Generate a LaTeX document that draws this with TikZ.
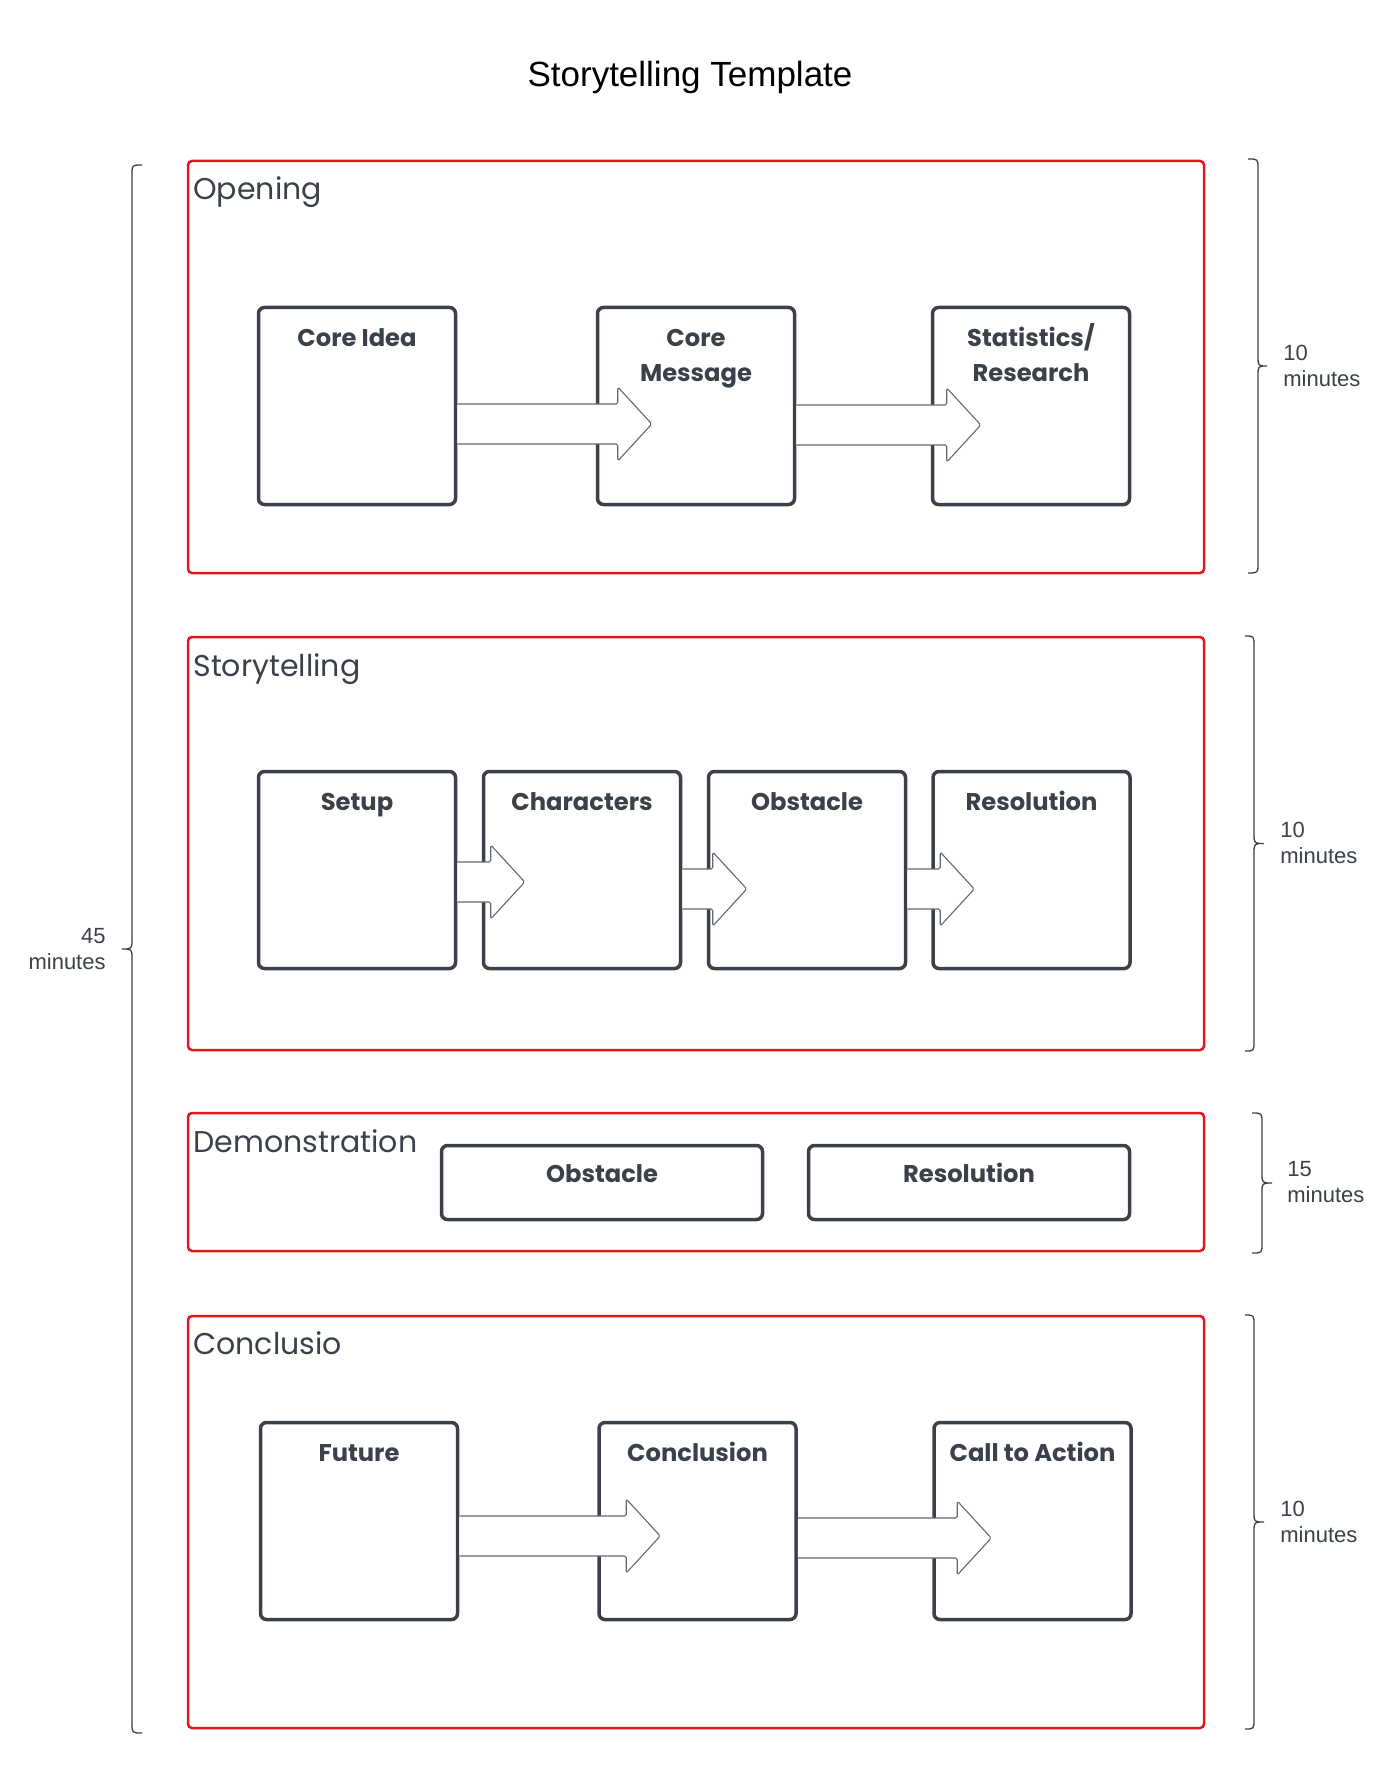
\documentclass[tikz,border=0pt]{standalone}
\usepackage{fontspec}
\setmainfont{Liberation Sans}
\newfontfamily\boxfont{Poppins}
\usetikzlibrary{calc}

\definecolor{ink}{HTML}{3A414A}
\definecolor{frame}{HTML}{E8141B}
\definecolor{arrowline}{HTML}{63686F}

\tikzset{
  section/.style={draw=frame, line width=1.25pt, rounded corners=2pt},
  stepbox/.style={draw=ink, line width=1.75pt, rounded corners=3pt, fill=white,
    minimum width=98.5pt, minimum height=98.5pt, inner sep=0pt},
  widebox/.style={draw=ink, line width=1.75pt, rounded corners=3pt, fill=white,
    minimum width=160.5pt, minimum height=37pt, inner sep=0pt},
  boxlabel/.style={font=\boxfont\bfseries\fontsize{12.1}{17.5}\selectfont,
    text=ink, align=center, inner sep=0pt, anchor=base},
  sectiontitle/.style={font=\boxfont\fontsize{15}{18}\selectfont, text=ink,
    anchor=base west, inner sep=0pt},
  timelabel/.style={font=\fontsize{11}{13}\selectfont, text=ink, inner sep=0pt},
  fat/.style={draw=arrowline, line width=0.55pt, fill=white, line join=round,
    rounded corners=0.8pt},
  brace/.style={draw=ink, line width=0.65pt},
}

% block arrow from the east side of #1 to a tip #3 px past the west side of #2,
% shifted #4 px below the box centres
\newcommand\fatarrow[4]{%
  \filldraw[fat]
    ($(#1.east)+(0,#4-20)$) -- ($(#2.west)+(#3-34,#4-20)$)
    -- ($(#2.west)+(#3-34,#4-37)$) -- ($(#2.west)+(#3,#4)$)
    -- ($(#2.west)+(#3-34,#4+37)$) -- ($(#2.west)+(#3-34,#4+20)$)
    -- ($(#1.east)+(0,#4+20)$);}

% curly brace: end x, spine x, tip x, top y, bottom y
\newcommand\timebrace[5]{%
  \draw[brace] (#1,#4) .. controls (#2,#4) .. (#2,#4+10)
    -- (#2,{(#4+#5)/2-10}) .. controls (#2,{(#4+#5)/2}) .. (#3,{(#4+#5)/2})
    .. controls (#2,{(#4+#5)/2}) .. (#2,{(#4+#5)/2+10})
    -- (#2,#5-10) .. controls (#2,#5) .. (#1,#5);}

\begin{document}
\begin{tikzpicture}[x=0.5pt, y=-0.5pt]
  \useasboundingbox (0,0) rectangle (1377,1775);

  \node[font=\fontsize{17.5}{21}\selectfont, anchor=base, inner sep=0pt]
    (title) at (690,87) {Storytelling Template};

  % sections
  \draw[section] (188,161) rectangle (1204,573);
  \draw[section] (188,637) rectangle (1204,1050);
  \draw[section] (188,1113) rectangle (1204,1251);
  \draw[section] (188,1316) rectangle (1204,1728);

  \node[sectiontitle] (t-open) at (193,200) {Opening};
  \node[sectiontitle] (t-story) at (193,676) {Storytelling};
  \node[sectiontitle] (t-demo) at (193,1152) {Demonstration};
  \node[sectiontitle] (t-concl) at (193,1354) {Conclusio};

  % opening
  \node[stepbox] (ci) at (357,406) {};
  \node[stepbox] (cm) at (696,406) {};
  \node[stepbox] (sr) at (1031,406) {};
  \node[boxlabel] (ci-t) at ([yshift=-20.5pt]ci.north) {Core Idea};
  \node[boxlabel] (cm-t) at ([yshift=-38pt]cm.north) {Core\\Message};
  \node[boxlabel] (sr-t) at ([yshift=-38pt]sr.north) {Statistics/\\Research};
  \fatarrow{ci}{cm}{56}{18}
  \fatarrow{cm}{sr}{50}{19}

  % storytelling
  \node[stepbox] (su) at (357,870) {};
  \node[stepbox] (ch) at (582,870) {};
  \node[stepbox] (ob) at (807,870) {};
  \node[stepbox] (rs) at (1031.5,870) {};
  \node[boxlabel] (su-t) at ([yshift=-20.5pt]su.north) {Setup};
  \node[boxlabel] (ch-t) at ([yshift=-20.5pt]ch.north) {Characters};
  \node[boxlabel] (ob-t) at ([yshift=-20.5pt]ob.north) {Obstacle};
  \node[boxlabel] (rs-t) at ([yshift=-20.5pt]rs.north) {Resolution};
  \fatarrow{su}{ch}{43}{12}
  \fatarrow{ch}{ob}{40}{19}
  \fatarrow{ob}{rs}{43}{19}

  % demonstration
  \node[widebox] (dob) at (602,1182.5) {};
  \node[widebox] (drs) at (969,1182.5) {};
  \node[boxlabel] (dob-t) at (dob.center) {Obstacle};
  \node[boxlabel] (drs-t) at (drs.center) {Resolution};

  % conclusio
  \node[stepbox] (fu) at (359,1521) {};
  \node[stepbox] (cn) at (697.5,1521) {};
  \node[stepbox] (ca) at (1032.5,1521) {};
  \node[boxlabel] (fu-t) at ([yshift=-20.5pt]fu.north) {Future};
  \node[boxlabel] (cn-t) at ([yshift=-20.5pt]cn.north) {Conclusion};
  \node[boxlabel] (ca-t) at ([yshift=-20.5pt]ca.north) {Call to Action};
  \fatarrow{fu}{cn}{63}{15}
  \fatarrow{cn}{ca}{59}{17}

  % time braces
  \timebrace{1248}{1258}{1267}{159}{573}
  \timebrace{1245}{1254}{1264}{636}{1051}
  \timebrace{1252}{1262}{1272}{1113}{1253}
  \timebrace{1245}{1254}{1264}{1315}{1729}
  \timebrace{142}{132}{122}{165}{1733}

  \node[timelabel, anchor=west, align=left] (m-open) at (1283,366) {10\\minutes};
  \node[timelabel, anchor=west, align=left] (m-story) at (1280,843) {10\\minutes};
  \node[timelabel, anchor=west, align=left] (m-demo) at (1287,1182) {15\\minutes};
  \node[timelabel, anchor=west, align=left] (m-concl) at (1280,1522) {10\\minutes};
  \node[timelabel, anchor=east, align=right] (m-total) at (106,949) {45\\minutes};
\end{tikzpicture}
\end{document}
